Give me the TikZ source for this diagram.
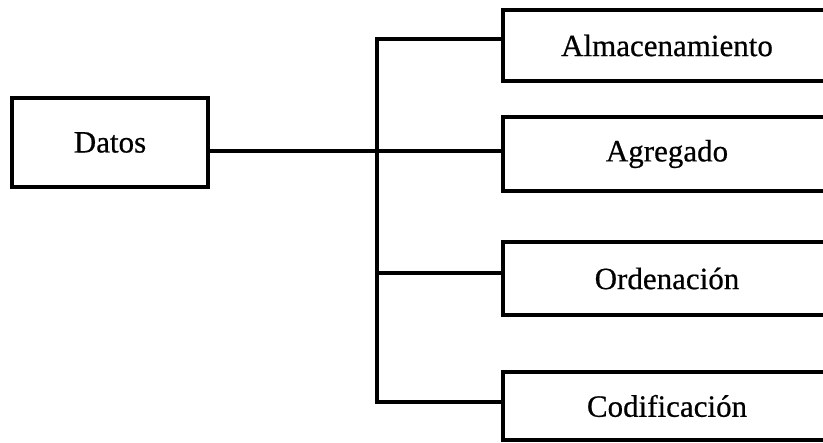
\documentclass[tikz,border=0pt]{standalone}
\usepackage{fontspec}
\setmainfont{Liberation Serif}
\newfontfamily\boxfont{Liberation Serif}[FakeBold=0.6]
\begin{document}
\begin{tikzpicture}[x=1pt,y=-1pt,
  box/.style={draw, line width=4pt, inner sep=0pt, minimum width=#1,
    font=\boxfont\fontsize{31}{31}\selectfont},
  link/.style={line width=3.5pt}]
\useasboundingbox (0,0) rectangle (823,443);
\clip (0,0) rectangle (823,443);
\node[box=196pt, minimum height=89pt] (datos) at (110,142.5) {Datos};
\node[box=328pt, minimum height=71pt] (alm) at (667,45.5) {Almacenamiento};
\node[box=328pt, minimum height=74pt] (agr) at (667,154) {Agregado};
\node[box=328pt, minimum height=73pt] (ord) at (667,278.5) {Ordenación};
\node[box=328pt, minimum height=68pt] (cod) at (667,406) {Codificación};
\coordinate (top) at (377,39);
\coordinate (bot) at (377,402);
\draw[link] ([yshift=6.5pt]alm.west) -- (top) -- (bot) -- ([yshift=4pt]cod.west);
\draw[link] ([yshift=3pt]agr.west -| datos.east) -- ([yshift=3pt]agr.west);
\draw[link] ([yshift=5.5pt]ord.west -| top) -- ([yshift=5.5pt]ord.west);
\end{tikzpicture}
\end{document}
